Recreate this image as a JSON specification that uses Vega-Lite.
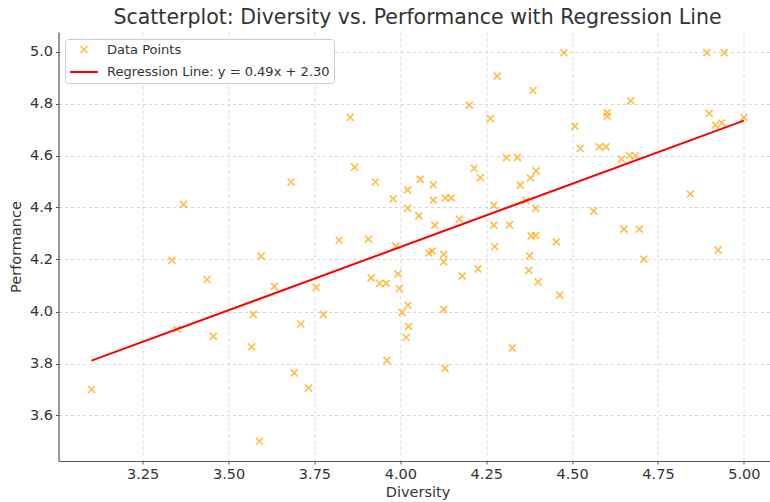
{
  "$schema": "https://vega.github.io/schema/vega-lite/v6.json",
  "autosize": {"type": "none"},
  "padding": {"left": 58.5, "top": 32, "right": 0, "bottom": 41},
  "width": 718,
  "height": 429,
  "background": "white",
  "title": {
    "text": "Scatterplot: Diversity vs. Performance with Regression Line",
    "font": "DejaVu Sans",
    "fontSize": 20.5,
    "fontWeight": "normal",
    "color": "#333333",
    "anchor": "middle",
    "offset": 4
  },
  "config": {
    "view": {"stroke": null},
    "axis": {
      "labelFont": "DejaVu Sans",
      "labelFontSize": 14.5,
      "labelColor": "#333333",
      "titleFont": "DejaVu Sans",
      "titleFontSize": 14.5,
      "titleFontWeight": "normal",
      "titleColor": "#333333",
      "domainColor": "#555555",
      "domainWidth": 1.2,
      "tickColor": "#555555",
      "tickSize": 3,
      "labelPadding": 3,
      "gridColor": "#cccccc",
      "gridDash": [3, 3],
      "gridWidth": 0.8
    },
    "legend": {
      "labelFont": "DejaVu Sans",
      "labelFontSize": 13,
      "labelColor": "#333333",
      "labelLimit": 0
    }
  },
  "datasets": {
    "points": [
      {"Diversity": 3.369, "Performance": 4.412},
      {"Diversity": 3.682, "Performance": 4.498},
      {"Diversity": 4.282, "Performance": 4.905},
      {"Diversity": 4.386, "Performance": 4.850},
      {"Diversity": 3.854, "Performance": 4.747},
      {"Diversity": 4.201, "Performance": 4.794},
      {"Diversity": 4.262, "Performance": 4.742},
      {"Diversity": 4.309, "Performance": 4.592},
      {"Diversity": 4.341, "Performance": 4.592},
      {"Diversity": 3.867, "Performance": 4.555},
      {"Diversity": 4.215, "Performance": 4.551},
      {"Diversity": 4.233, "Performance": 4.515},
      {"Diversity": 4.395, "Performance": 4.541},
      {"Diversity": 4.379, "Performance": 4.513},
      {"Diversity": 4.349, "Performance": 4.486},
      {"Diversity": 3.927, "Performance": 4.498},
      {"Diversity": 3.979, "Performance": 4.433},
      {"Diversity": 4.021, "Performance": 4.468},
      {"Diversity": 4.058, "Performance": 4.508},
      {"Diversity": 4.096, "Performance": 4.487},
      {"Diversity": 4.096, "Performance": 4.428},
      {"Diversity": 4.131, "Performance": 4.437},
      {"Diversity": 4.148, "Performance": 4.437},
      {"Diversity": 4.021, "Performance": 4.397},
      {"Diversity": 4.054, "Performance": 4.368},
      {"Diversity": 4.100, "Performance": 4.332},
      {"Diversity": 4.172, "Performance": 4.355},
      {"Diversity": 4.272, "Performance": 4.408},
      {"Diversity": 4.366, "Performance": 4.427},
      {"Diversity": 4.394, "Performance": 4.397},
      {"Diversity": 4.272, "Performance": 4.332},
      {"Diversity": 4.318, "Performance": 4.333},
      {"Diversity": 4.381, "Performance": 4.291},
      {"Diversity": 4.394, "Performance": 4.293},
      {"Diversity": 3.822, "Performance": 4.274},
      {"Diversity": 3.907, "Performance": 4.278},
      {"Diversity": 3.987, "Performance": 4.252},
      {"Diversity": 4.275, "Performance": 4.249},
      {"Diversity": 4.476, "Performance": 4.996},
      {"Diversity": 4.892, "Performance": 4.996},
      {"Diversity": 4.943, "Performance": 4.996},
      {"Diversity": 4.671, "Performance": 4.810},
      {"Diversity": 4.602, "Performance": 4.765},
      {"Diversity": 4.602, "Performance": 4.751},
      {"Diversity": 4.899, "Performance": 4.762},
      {"Diversity": 4.917, "Performance": 4.717},
      {"Diversity": 4.936, "Performance": 4.725},
      {"Diversity": 5.000, "Performance": 4.747},
      {"Diversity": 4.508, "Performance": 4.713},
      {"Diversity": 4.524, "Performance": 4.627},
      {"Diversity": 4.579, "Performance": 4.633},
      {"Diversity": 4.599, "Performance": 4.633},
      {"Diversity": 4.644, "Performance": 4.586},
      {"Diversity": 4.667, "Performance": 4.600},
      {"Diversity": 4.684, "Performance": 4.600},
      {"Diversity": 4.844, "Performance": 4.452},
      {"Diversity": 4.563, "Performance": 4.386},
      {"Diversity": 4.651, "Performance": 4.317},
      {"Diversity": 4.696, "Performance": 4.317},
      {"Diversity": 4.454, "Performance": 4.268},
      {"Diversity": 3.335, "Performance": 4.197},
      {"Diversity": 3.595, "Performance": 4.213},
      {"Diversity": 3.437, "Performance": 4.123},
      {"Diversity": 3.633, "Performance": 4.097},
      {"Diversity": 3.572, "Performance": 3.988},
      {"Diversity": 3.710, "Performance": 3.952},
      {"Diversity": 3.350, "Performance": 3.931},
      {"Diversity": 3.456, "Performance": 3.904},
      {"Diversity": 3.567, "Performance": 3.864},
      {"Diversity": 3.691, "Performance": 3.764},
      {"Diversity": 3.101, "Performance": 3.700},
      {"Diversity": 3.590, "Performance": 3.501},
      {"Diversity": 3.733, "Performance": 3.705},
      {"Diversity": 4.083, "Performance": 4.225},
      {"Diversity": 4.093, "Performance": 4.232},
      {"Diversity": 4.126, "Performance": 4.220},
      {"Diversity": 4.126, "Performance": 4.191},
      {"Diversity": 4.376, "Performance": 4.214},
      {"Diversity": 3.915, "Performance": 4.129},
      {"Diversity": 3.940, "Performance": 4.108},
      {"Diversity": 3.959, "Performance": 4.108},
      {"Diversity": 3.993, "Performance": 4.145},
      {"Diversity": 3.997, "Performance": 4.088},
      {"Diversity": 4.180, "Performance": 4.136},
      {"Diversity": 4.226, "Performance": 4.164},
      {"Diversity": 4.374, "Performance": 4.158},
      {"Diversity": 4.401, "Performance": 4.114},
      {"Diversity": 3.755, "Performance": 4.093},
      {"Diversity": 3.776, "Performance": 3.988},
      {"Diversity": 4.022, "Performance": 4.024},
      {"Diversity": 4.005, "Performance": 3.997},
      {"Diversity": 4.024, "Performance": 3.943},
      {"Diversity": 4.017, "Performance": 3.900},
      {"Diversity": 4.126, "Performance": 4.008},
      {"Diversity": 3.961, "Performance": 3.812},
      {"Diversity": 4.130, "Performance": 3.781},
      {"Diversity": 4.326, "Performance": 3.860},
      {"Diversity": 4.709, "Performance": 4.201},
      {"Diversity": 4.925, "Performance": 4.236},
      {"Diversity": 4.464, "Performance": 4.063}
    ],
    "line": [
      {"Diversity": 3.101, "Performance": 3.811},
      {"Diversity": 5.000, "Performance": 4.734}
    ]
  },
  "encoding": {
    "x": {
      "field": "Diversity",
      "type": "quantitative",
      "scale": {"domain": [3.005, 5.095], "nice": false, "zero": false},
      "axis": {
        "values": [3.25, 3.5, 3.75, 4.0, 4.25, 4.5, 4.75, 5.0],
        "format": ".2f",
        "title": "Diversity",
        "titlePadding": 5
      }
    },
    "y": {
      "field": "Performance",
      "type": "quantitative",
      "scale": {"domain": [3.425, 5.075], "nice": false, "zero": false},
      "axis": {
        "values": [3.6, 3.8, 4.0, 4.2, 4.4, 4.6, 4.8, 5.0],
        "format": ".1f",
        "title": "Performance",
        "titlePadding": 6
      }
    }
  },
  "layer": [
    {
      "data": {"name": "points"},
      "transform": [{"calculate": "'Data Points'", "as": "series"}],
      "mark": {
        "type": "point",
        "filled": false
      },
      "encoding": {
        "color": {
          "field": "series",
          "type": "nominal",
          "scale": {
            "domain": ["Data Points", "Regression Line: y = 0.49x + 2.30"],
            "range": ["#FFA500", "#FF0000"]
          },
          "legend": {
            "title": null,
            "orient": "none",
            "legendX": 6.5,
            "legendY": 7,
            "padding": 4,
            "fillColor": "white",
            "strokeColor": "#cccccc",
            "cornerRadius": 3,
            "labelOffset": 8,
            "rowPadding": -4
          }
        },
        "shape": {
          "field": "series",
          "type": "nominal",
          "scale": {
            "domain": ["Data Points", "Regression Line: y = 0.49x + 2.30"],
            "range": ["M-1,-1L1,1M-1,1L1,-1", "stroke"]
          },
          "legend": {"title": null}
        },
        "size": {
          "field": "series",
          "type": "nominal",
          "scale": {
            "domain": ["Data Points", "Regression Line: y = 0.49x + 2.30"],
            "range": [49, 784]
          },
          "legend": {"title": null}
        },
        "strokeWidth": {
          "field": "series",
          "type": "nominal",
          "scale": {
            "domain": ["Data Points", "Regression Line: y = 0.49x + 2.30"],
            "range": [1.7, 2]
          },
          "legend": {"title": null}
        },
        "opacity": {
          "field": "series",
          "type": "nominal",
          "scale": {
            "domain": ["Data Points", "Regression Line: y = 0.49x + 2.30"],
            "range": [0.7, 1]
          },
          "legend": {"title": null}
        }
      }
    },
    {
      "data": {"name": "line"},
      "transform": [{"calculate": "'Regression Line: y = 0.49x + 2.30'", "as": "series"}],
      "mark": {"type": "line", "strokeWidth": 2},
      "encoding": {
        "color": {"field": "series", "type": "nominal"}
      }
    }
  ]
}
